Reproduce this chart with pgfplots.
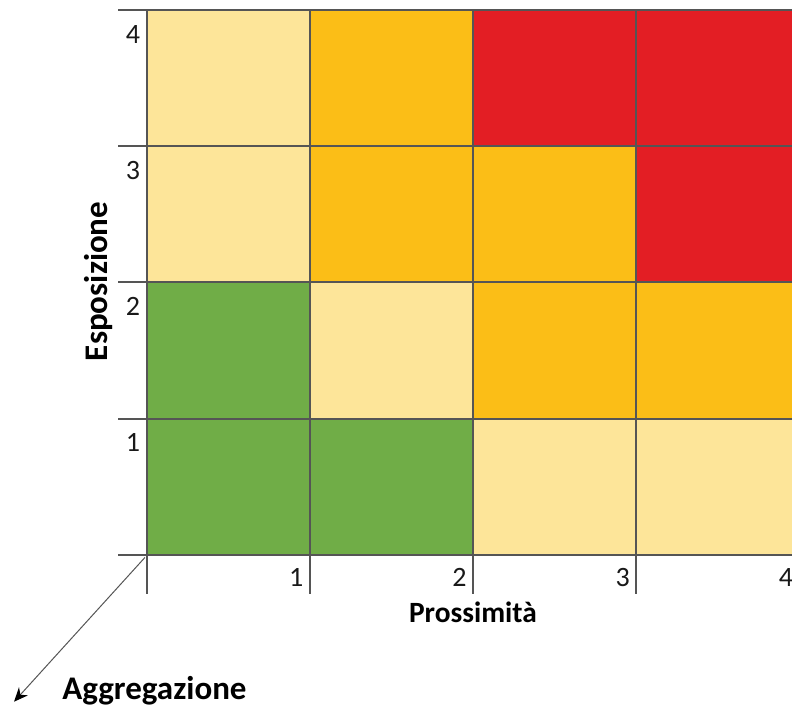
\documentclass[border=0pt]{standalone}
\usepackage{pgfplots}
\pgfplotsset{compat=1.18}
\usepackage{fontspec}
\setmainfont{Carlito}
\usetikzlibrary{arrows.meta}

\definecolor{lowc}{RGB}{112,173,71}
\definecolor{midc}{RGB}{253,229,153}
\definecolor{highc}{RGB}{251,190,23}
\definecolor{topc}{RGB}{227,30,36}
\definecolor{gridc}{RGB}{85,85,85}

\begin{document}
\begin{tikzpicture}
    \begin{axis}[
        x=81.6pt,
        y=68.1pt,
        xmin=0, xmax=4,
        ymin=0, ymax=4,
        clip=false,
        axis line style={draw=none},
        major tick length=0pt,
        xtick={1,2,3,4},
        ytick={1,2,3,4},
        xticklabels={1,2,3,4},
        yticklabels={1,2,3,4},
        /pgf/number format/assume math mode=true,
        tick label style={font=\fontsize{14}{16}\selectfont, text=black!90},
        xticklabel style={anchor=north east, inner sep=0pt, xshift=-3pt, yshift=-6.5pt},
        yticklabel style={anchor=north east, inner sep=0pt, xshift=-3pt, yshift=-7.5pt},
        cell/.style={draw=gridc, line width=1pt, fill=#1, forget plot},
        ]
        % row 0-1
        \addplot[cell=lowc]  coordinates {(0,0) (1,0) (1,1) (0,1)} -- cycle;
        \addplot[cell=lowc]  coordinates {(1,0) (2,0) (2,1) (1,1)} -- cycle;
        \addplot[cell=midc]  coordinates {(2,0) (3,0) (3,1) (2,1)} -- cycle;
        \addplot[cell=midc]  coordinates {(3,0) (4,0) (4,1) (3,1)} -- cycle;
        % row 1-2
        \addplot[cell=lowc]  coordinates {(0,1) (1,1) (1,2) (0,2)} -- cycle;
        \addplot[cell=midc]  coordinates {(1,1) (2,1) (2,2) (1,2)} -- cycle;
        \addplot[cell=highc] coordinates {(2,1) (3,1) (3,2) (2,2)} -- cycle;
        \addplot[cell=highc] coordinates {(3,1) (4,1) (4,2) (3,2)} -- cycle;
        % row 2-3
        \addplot[cell=midc]  coordinates {(0,2) (1,2) (1,3) (0,3)} -- cycle;
        \addplot[cell=highc] coordinates {(1,2) (2,2) (2,3) (1,3)} -- cycle;
        \addplot[cell=highc] coordinates {(2,2) (3,2) (3,3) (2,3)} -- cycle;
        \addplot[cell=topc]  coordinates {(3,2) (4,2) (4,3) (3,3)} -- cycle;
        % row 3-4
        \addplot[cell=midc]  coordinates {(0,3) (1,3) (1,4) (0,4)} -- cycle;
        \addplot[cell=highc] coordinates {(1,3) (2,3) (2,4) (1,4)} -- cycle;
        \addplot[cell=topc]  coordinates {(2,3) (3,3) (3,4) (2,4)} -- cycle;
        \addplot[cell=topc]  coordinates {(3,3) (4,3) (4,4) (3,4)} -- cycle;

        % tick lines
        \draw[gridc, line width=1pt] (axis cs:0,0) -- (axis cs:0,-0.29)
            (axis cs:1,0) -- (axis cs:1,-0.29)
            (axis cs:2,0) -- (axis cs:2,-0.29)
            (axis cs:3,0) -- (axis cs:3,-0.29)
            (axis cs:4,0) -- (axis cs:4,-0.29);
        \draw[gridc, line width=1pt] (axis cs:0,0) -- (axis cs:-0.175,0)
            (axis cs:0,1) -- (axis cs:-0.175,1)
            (axis cs:0,2) -- (axis cs:-0.175,2)
            (axis cs:0,3) -- (axis cs:-0.175,3)
            (axis cs:0,4) -- (axis cs:-0.175,4);

        % labels
        \node[anchor=base, inner sep=0pt, font=\fontsize{14.7}{17}\selectfont\bfseries]
            at (axis cs:2.0,-0.499) {Prossimità};
        \node[anchor=base, rotate=90, inner sep=0pt, font=\fontsize{16.5}{19}\selectfont\bfseries]
            at (axis cs:-0.242,2.007) {Esposizione};
        \node[anchor=base west, inner sep=0pt, font=\fontsize{16.5}{19}\selectfont\bfseries]
            at (axis cs:-0.518,-1.064) {Aggregazione};
        \draw[gridc, line width=0.5pt, -{Stealth[length=7pt, width=6pt, black]}]
            (axis cs:-0.01,-0.02) -- (axis cs:-0.812,-1.079);

        \coordinate (bl) at (axis cs:-0.898,-1.108);
        \coordinate (tr) at (axis cs:3.955,4.073);
    \end{axis}
    \pgfresetboundingbox
    \path[use as bounding box] (bl) rectangle (tr);
\end{tikzpicture}
\end{document}
